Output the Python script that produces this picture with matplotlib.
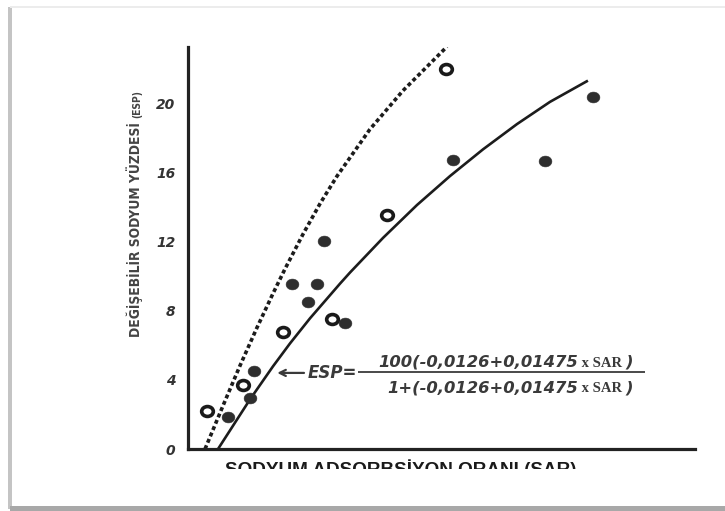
import matplotlib
matplotlib.use('Agg')
import matplotlib.pyplot as plt
from matplotlib import font_manager as fm
from matplotlib.font_manager import FontProperties
from matplotlib.path import Path
from matplotlib.markers import MarkerStyle
from matplotlib.transforms import Affine2D, Bbox, TransformedBbox
from matplotlib.offsetbox import TextArea, HPacker, AnnotationBbox
from matplotlib.patches import Rectangle

# ---------------- data ----------------
solid_sar = [1.48, 3.06, 4.19, 5.03, 6.02, 7.50, 7.99, 9.62, 11.29, 12.92, 14.55, 16.22, 17.85, 19.72]
solid_esp = [0.0, 2.88, 4.79, 6.12, 7.58, 9.59, 10.23, 12.24, 14.14, 15.82, 17.37, 18.83, 20.12, 21.35]

dashed_sar = [0.84, 1.73, 2.56, 3.40, 4.19, 4.78, 5.67, 6.51, 7.35, 8.97, 10.60, 12.77]
dashed_esp = [0.0, 2.52, 4.82, 7.03, 9.01, 10.43, 12.45, 14.22, 15.82, 18.53, 20.77, 23.32]

open_sar = [0.94, 2.71, 4.68, 7.10, 9.81, 12.72]
open_esp = [2.20, 3.71, 6.78, 7.54, 13.57, 22.03]

filled_sar = [1.97, 3.06, 3.25, 5.13, 6.36, 5.92, 6.71, 7.74, 13.07, 17.60, 19.97]
filled_esp = [1.86, 2.96, 4.52, 9.57, 9.57, 8.52, 12.06, 7.30, 16.75, 16.70, 20.41]

y_ticks = [0, 4, 8, 12, 16, 20]
y_tick_labels = ['0', '4', '8', '12', '16', '20']

y_label = 'DEĞİŞEBİLİR SODYUM YÜZDESİ'
y_label_sub = '(ESP)'
x_label = 'SODYUM ADSORBSİYON ORANI (SAR)'
eq_lhs = 'ESP='
eq_num = '100(-0,0126+0,01475'
eq_den = '1+(-0,0126+0,01475'
eq_var = ' x SAR '
eq_close = ')'

# ---------------- figure ----------------
W, H = 725, 511
fig = plt.figure(figsize=(W / 100, H / 100), dpi=100)
fig.patch.set_facecolor('white')
renderer = fig.canvas.get_renderer()


def fx(px):
    return px / W


def fy(py):
    return 1 - py / H


# find a condensed / narrow sans font if one is installed
def condensed_font(weight='normal'):
    best = None
    for f in fm.fontManager.ttflist:
        nm = f.name.lower()
        narrow = ('narrow' in nm or 'condensed' in nm or
                  f.stretch in ('condensed', 'semi-condensed', 'extra-condensed', 'ultra-condensed'))
        if not narrow or 'mono' in nm or ('serif' in nm and 'sans' not in nm):
            continue
        if f.style != 'normal':
            continue
        w = f.weight if isinstance(f.weight, int) else 400
        score = abs(w - (700 if weight == 'bold' else 400))
        if best is None or score < best[0]:
            best = (score, f.fname)
    if best is None:
        return None
    return best[1]


cond = condensed_font('bold')


def fitted_text(x, y, s, target_px, base_size, **kw):
    if cond:
        fp = FontProperties(fname=cond, size=base_size)
    else:
        fp = FontProperties(family='Liberation Sans', weight='bold', size=base_size)
    t = fig.text(x, y, s, rotation=90, rotation_mode='anchor', fontproperties=fp, **kw)
    bb = t.get_window_extent(renderer)
    t.set_fontsize(base_size * target_px / bb.height)
    return t


# frame / shadow decoration
fig.add_artist(Rectangle((fx(8), fy(509)), fx(4), fy(7) - fy(509), transform=fig.transFigure,
                         color='#c4c4c4', lw=0, zorder=0))
fig.add_artist(Rectangle((fx(10), fy(512)), 1, fy(505.5) - fy(512), transform=fig.transFigure,
                         color='#a8a8a8', lw=0, zorder=0))
fig.add_artist(Rectangle((fx(10), fy(8)), 1, fy(6.5) - fy(8), transform=fig.transFigure,
                         color='#ececec', lw=0, zorder=0))

ax = fig.add_axes([fx(188), fy(449), fx(695) - fx(188), fy(47) - fy(449)])
ax.set_facecolor('none')
ax.set_xlim(0, 25)
ax.set_ylim(0, 23.3)
for s in ['top', 'right']:
    ax.spines[s].set_visible(False)
for s in ['left', 'bottom']:
    ax.spines[s].set_linewidth(2.3)
    ax.spines[s].set_color('#222222')
    ax.spines[s].set_capstyle('projecting')

ax.set_xticks([])
ax.set_yticks(y_ticks)
ax.set_yticklabels(y_tick_labels, fontfamily='DejaVu Sans', fontweight='bold',
                   fontstyle='italic', fontsize=10, color='#333333')
ax.tick_params(axis='y', length=0, pad=9)

# curves
ax.plot(dashed_sar, dashed_esp, color='#1c1c1c', lw=2.6, linestyle=(0, (1.1, 0.8)),
        dash_capstyle='butt', dash_joinstyle='round', zorder=2)
ax.plot(solid_sar, solid_esp, color='#1c1c1c', lw=1.9, solid_joinstyle='round',
        solid_capstyle='butt', zorder=2)

# points (slightly wide ellipses, as in the picture)
ell = MarkerStyle(Path.unit_circle().transformed(Affine2D().scale(1.18, 1.0)))
ax.plot(filled_sar, filled_esp, ls='none', marker=ell, ms=9.2, mfc='#2e2e2e',
        mec='#2e2e2e', mew=0.4, zorder=3)
ax.plot(open_sar, open_esp, ls='none', marker=ell, ms=8.4, mfc='white',
        mec='#1a1a1a', mew=2.6, zorder=3)

# equation annotation
eq_col = '#3a3a3a'
ax.annotate('', xy=(4.40, 4.41), xytext=(5.72, 4.41),
            arrowprops=dict(arrowstyle='->', lw=1.6, color=eq_col,
                            shrinkA=0, shrinkB=0, mutation_scale=11))
ax.text(8.33, 4.41, eq_lhs, ha='right', va='center', fontfamily='DejaVu Sans',
        fontweight='bold', fontstyle='italic', fontsize=12, color=eq_col)
ax.hlines(4.46, 8.38, 22.53, color=eq_col, lw=1.3)

sans = dict(family='DejaVu Sans', weight='bold', style='italic', size=11.8, color=eq_col)
serif = dict(family='Liberation Serif', weight='bold', size=10.5, color=eq_col)


def frac_line(main, y):
    box = HPacker(children=[TextArea(main, textprops=sans),
                            TextArea(eq_var, textprops=serif),
                            TextArea(eq_close, textprops=sans)],
                  align='baseline', pad=0, sep=0)
    ab = AnnotationBbox(box, (21.94, y), xycoords='data', box_alignment=(1, 0.5),
                        frameon=False, pad=0)
    ax.add_artist(ab)


frac_line(eq_num, 5.04)
frac_line(eq_den, 3.54)

# axis labels (rotated; baseline on the right side at x = 140 px)
fitted_text(fx(140), fy((337 + 122) / 2), y_label, 215, 12,
            ha='center', va='baseline', color='#444444')
fitted_text(fx(140), fy(104), y_label_sub, 28, 9,
            ha='center', va='baseline', color='#444444')

xl = fig.text(fx(401), fy(474.5), x_label, ha='center', va='baseline',
              family=['Liberation Sans', 'DejaVu Sans'], fontweight='bold',
              fontsize=13.6, color='#1a1a1a')
xl.set_clip_box(TransformedBbox(Bbox([[0, fy(469)], [1, 1]]), fig.transFigure))
xl.set_clip_on(True)

fig.savefig('out.png', dpi=100)
